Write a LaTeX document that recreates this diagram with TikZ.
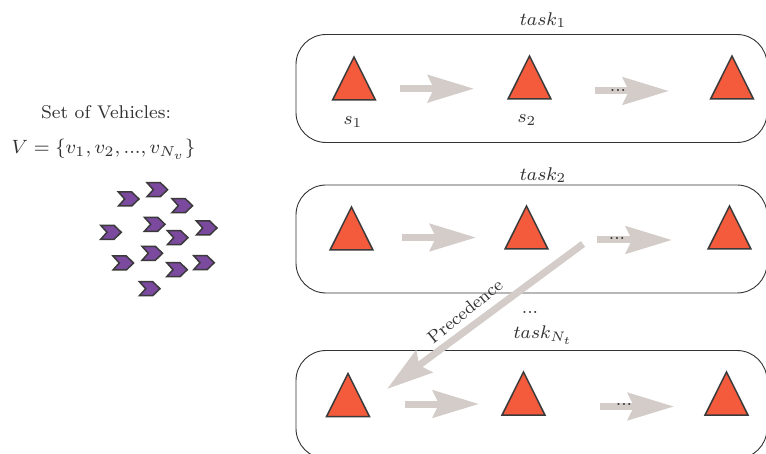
\documentclass[tikz,border=0pt]{standalone}
\usetikzlibrary{shapes.geometric,arrows.meta}
\definecolor{tri}{HTML}{F45B3C}
\definecolor{triline}{HTML}{3A3A3A}
\definecolor{arr}{HTML}{D3CCC8}
\definecolor{veh}{HTML}{7B4A9E}
\definecolor{ink}{HTML}{333333}
\tikzset{
  taskbox/.style={draw=ink,line width=0.9pt,rounded corners=30pt,minimum width=471pt,minimum height=108pt,inner sep=0pt,outer sep=0pt},
  tribox/.style={draw=triline,fill=tri,line width=1.5pt,isosceles triangle,shape border rotate=90,isosceles triangle apex angle=53,minimum height=43pt,inner sep=0pt,anchor=apex,outer sep=0pt},
  flow/.style={draw=arr,line width=7pt,-{Stealth[length=46pt,width=27pt,inset=6pt,fill=arr]}},
  lab/.style={text=ink,inner sep=0pt,scale=2.3,font=\footnotesize},
  dots/.style={text=ink,inner sep=0pt,scale=2.3,font=\footnotesize},
  vehicle/.style={draw=triline,fill=veh,line width=1.5pt,line join=miter}
}
\begin{document}
\begin{tikzpicture}[x=1pt,y=-1pt]
\useasboundingbox (0,0) rectangle (766,454);
\clip (0,0) rectangle (766,454);
\node[taskbox] (b1) at (531.5,88.5) {};
\node[taskbox] (b2) at (531.5,239) {};
\node[taskbox] (b3) at (531.5,404.5) {};
% triangles
\node[tribox] (t11) at (354,57) {};
\node[tribox] (t12) at (529.5,56) {};
\node[tribox] (t13) at (732,56) {};
\node[tribox] (t21) at (351.5,207) {};
\node[tribox] (t22) at (526.5,206) {};
\node[tribox] (t23) at (729.5,206) {};
\node[tribox] (t31) at (348,373.5) {};
\node[tribox] (t32) at (523.5,372) {};
\node[tribox] (t33) at (726.5,372) {};
% arrow ends
\coordinate (a1s) at (400,88.7); \coordinate (a1e) at (474,88.7);
\coordinate (a2s) at (595,91); \coordinate (a2e) at (669,91);
\coordinate (a3s) at (402,237.5); \coordinate (a3e) at (476,237.5);
\coordinate (a4s) at (597,240); \coordinate (a4e) at (672,240);
\coordinate (a5s) at (405,404); \coordinate (a5e) at (479,404);
\coordinate (a6s) at (600,406.5); \coordinate (a6e) at (674,406.5);
\coordinate (ps) at (583,244); \coordinate (pe) at (387,389);
\foreach \i in {1,...,6}{\draw[flow] (a\i s) -- (a\i e);}
\draw[flow] (ps) -- (pe);
% dots
\node[dots] (d1) at (618,90) {...};
\node[dots] (d2) at (617,238) {...};
\node[dots] (d3) at (624,404) {...};
\node[dots] (d4) at (530,312) {...};
% labels
\node[lab] (l1) at (543,20) {$task_1$};
\node[lab] (l2) at (543,175) {$task_2$};
\node[lab] (l3) at (543,335) {$task_{N_t}$};
\node[lab] (s1) at (353,122) {$s_1$};
\node[lab] (s2) at (527,120) {$s_2$};
\node[lab,rotate=39,scale=0.96] (pl) at (465,311) {Precedence};
\node[lab] (setl) at (106,112) {Set of Vehicles:};
\node[lab,scale=1.045] (vset) at (103.5,149) {$V=\{v_1,v_2,...,v_{N_v}\}$};
% vehicles
\foreach \x/\y in {128.7/199,157.3/189.7,182.3/205.7,111/232.3,154.7/224.3,177.7/237.7,206.7/228,123.3/263,152.3/253.3,177/269.7,204/262.7,149.7/288.7}{
  \draw[vehicle] (\x-10.3,\y-7) -- (\x+3,\y-7) -- (\x+10.3,\y) -- (\x+3,\y+7) -- (\x-10.3,\y+7) -- (\x-4,\y) -- cycle;
}
\end{tikzpicture}
\end{document}
